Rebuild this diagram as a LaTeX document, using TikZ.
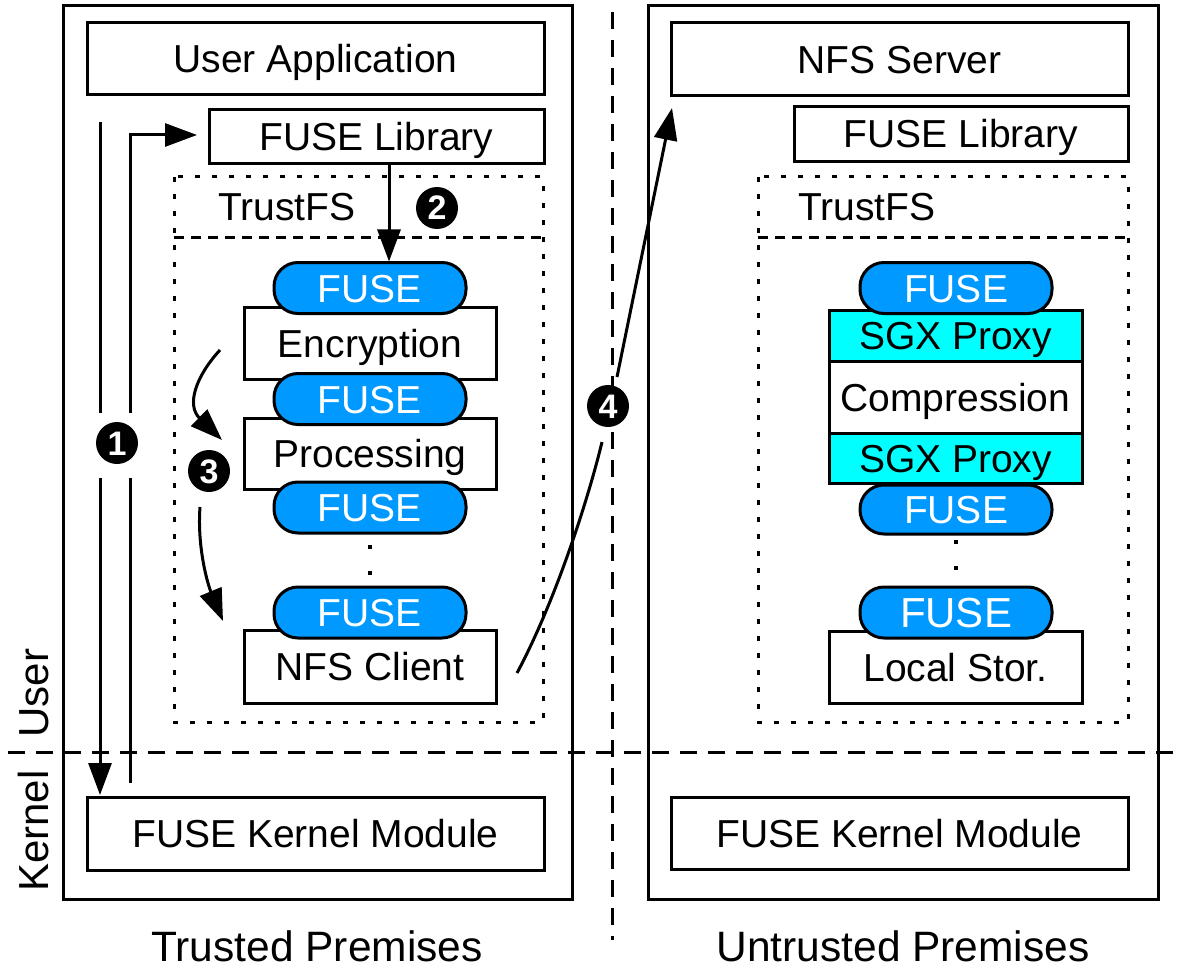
\documentclass[tikz,border=0pt]{standalone}
\usepackage{fontspec}
\setmainfont{Liberation Sans}
\usetikzlibrary{arrows.meta,calc}
\definecolor{fuseblue}{RGB}{0,153,255}
\definecolor{sgxcyan}{RGB}{0,255,255}
\tikzset{
  lbl/.style={font=\fontsize{39}{47}\selectfont, text height=28pt, text depth=0pt, inner sep=0pt, outer sep=0pt},
  box/.style={lbl, draw, line width=3pt, fill=white},
  pill/.style={lbl, draw, line width=3pt, fill=fuseblue, text=white, rounded corners=24pt},
  sgx/.style={box, fill=sgxcyan},
  outerbox/.style={draw, line width=3pt, inner sep=0pt, outer sep=0pt},
  region/.style={inner sep=0pt, outer sep=0pt},
  num/.style={circle, fill=black, text=white, font=\bfseries\fontsize{34}{34}\selectfont, inner sep=0pt, minimum size=42pt, text height=24pt, text depth=0pt},
  arr/.style={line width=3pt, -{Triangle[length=32pt,width=23pt]}},
  plain/.style={line width=3pt},
  divline/.style={line width=3pt, dash pattern=on 17pt off 11pt},
  tfssep/.style={line width=3pt, dash pattern=on 10pt off 7pt},
  tfsdot/.style={line width=3pt, dash pattern=on 5pt off 12pt},
  side/.style={font=\fontsize{42}{50}\selectfont, text height=30pt, text depth=0pt, inner sep=0pt, rotate=90},
  premise/.style={font=\fontsize{42.5}{50}\selectfont, text height=30.5pt, text depth=0pt, inner sep=0pt},
}
\begin{document}
\begin{tikzpicture}[x=1pt,y=-1pt]
\useasboundingbox (0,0) rectangle (1190,968);
\fill[white] (0,0) rectangle (1190,968);

% dividing lines
\coordinate (hl1) at (8,752);
\coordinate (hl2) at (1182,752);
\coordinate (vl1) at (612,12);
\coordinate (vl2) at (612,940);
\draw[divline] (hl1) -- (hl2);
\draw[divline] (vl1) -- (vl2);

% outer boxes
\node[outerbox, minimum width=509pt, minimum height=893pt] (outL) at (318,452.5) {};
\node[outerbox, minimum width=510pt, minimum height=893pt] (outR) at (903,452.5) {};

% side labels
\node[side] (user) at (33,693) {User};
\node[side] (kernel) at (33,831) {Kernel};

% ---------- left side ----------
\node[box, minimum width=457pt, minimum height=72pt] (ua) at (315.5,59) {User Application};
\node[box, minimum width=335pt, minimum height=54pt] (flL) at (376.5,137) {FUSE Library};

\node[region, minimum width=369pt, minimum height=545pt] (tfsL) at (358.5,449.5) {};
\coordinate (sepL) at (0,238);
\draw[tfsdot] (tfsL.north west) rectangle (tfsL.south east);
\draw[tfssep] (tfsL.west |- sepL) -- (tfsL.east |- sepL);
\node[lbl] (tfsLlab) at (287,207) {TrustFS};

\node[box, minimum width=252pt, minimum height=72pt] (enc) at (370,343) {Encryption};
\node[box, minimum width=252pt, minimum height=71pt] (proc) at (370,453.5) {Processing};
\node[box, minimum width=252pt, minimum height=73pt] (nfsc) at (370,666.5) {NFS Client};
\node[pill, minimum width=192pt, minimum height=51pt] (p1) at (370,288) {FUSE};
\node[pill, minimum width=192pt, minimum height=51pt] (p2) at (370,399) {FUSE};
\node[pill, minimum width=192pt, minimum height=51pt] (p3) at (370,507.5) {FUSE};
\node[pill, minimum width=192pt, minimum height=51pt] (p4) at (370,612.5) {FUSE};
\fill (368,545) rectangle (372,549);
\fill (368,571) rectangle (372,575);

\node[box, minimum width=457pt, minimum height=73pt] (kmL) at (315.5,833.5) {FUSE Kernel Module};

% ---------- right side ----------
\node[box, minimum width=457pt, minimum height=73pt] (nfss) at (899.5,59.5) {NFS Server};
\node[box, minimum width=334pt, minimum height=55pt] (flR) at (961,134) {FUSE Library};

\node[region, minimum width=370pt, minimum height=545pt] (tfsR) at (943,449.5) {};
\draw[tfsdot] (tfsR.north west) rectangle (tfsR.south east);
\draw[tfssep] (tfsR.west |- sepL) -- (tfsR.east |- sepL);
\node[lbl] (tfsRlab) at (867,207) {TrustFS};

\node[sgx, minimum width=253pt, minimum height=51pt] (sgx1) at (955.5,335.5) {SGX Proxy};
\node[box, minimum width=253pt, minimum height=72pt] (comp) at (955.5,397) {Compression};
\node[sgx, minimum width=253pt, minimum height=50pt] (sgx2) at (955.5,458) {SGX Proxy};
\node[box, minimum width=253pt, minimum height=72pt] (ls) at (955.5,667) {Local Stor.};
\node[pill, minimum width=192pt, minimum height=51pt] (pr1) at (956,288) {FUSE};
\node[pill, minimum width=192pt, minimum height=49pt] (pr2) at (956,509.5) {FUSE};
\node[pill, minimum width=192pt, minimum height=51pt, font=\fontsize{42}{50}\selectfont, text height=30pt] (pr3) at (956,612.5) {FUSE};
\fill (954,540) rectangle (958,544);
\fill (954,566) rectangle (958,570);

\node[box, minimum width=457pt, minimum height=72pt] (kmR) at (899.5,833) {FUSE Kernel Module};

% premises labels
\node[premise] (tp) at (317,946) {Trusted Premises};
\node[premise] (up) at (903,946) {Untrusted Premises};

% ---------- numbered markers ----------
\node[num] (n1) at (117,443) {1};
\node[num] (n2) at (437,208) {2};
\node[num] (n3) at (209,471) {3};
\node[num] (n4) at (608,406) {4};

% ---------- arrows ----------
% (1) down to kernel and back up to library
\coordinate (d1) at (100,122);
\coordinate (d2) at (100,413);
\coordinate (d3) at (100,478);
\coordinate (d4) at (100,795);
\draw[plain] (d1) -- (d2);
\draw[arr] (d3) -- (d4);
\coordinate (u1) at (130,783);
\coordinate (u2) at (130,478);
\coordinate (u3) at (130,413);
\coordinate (u4) at (130,135);
\coordinate (u5) at (197,135);
\draw[plain] (u1) -- (u2);
\draw[arr] (u3) -- (u4) -- (u5);

% (2) library to first FUSE layer
\coordinate (a2) at (389,0);
\draw[arr] (flL.south -| a2) -- ($(p1.north -| a2)+(0,-1)$);

% (3) down the stack
\coordinate (c1) at (220,350);
\coordinate (c2) at (222,440);
\draw[arr] (c1) .. controls (196,376) and (186,405) .. (c2);
\coordinate (c3) at (200,507);
\coordinate (c4) at (223,621);
\draw[arr] (c3) .. controls (197,548) and (208,585) .. (c4);

% (4) NFS client to NFS server
\coordinate (f1) at (517,673);
\coordinate (f2) at (602,442);
\coordinate (f3) at (617,377);
\coordinate (f4) at (672,108);
\draw[plain] (f1) .. controls (555,602) and (588,500) .. (f2);
\draw[arr] (f3) -- (f4);
\end{tikzpicture}
\end{document}
